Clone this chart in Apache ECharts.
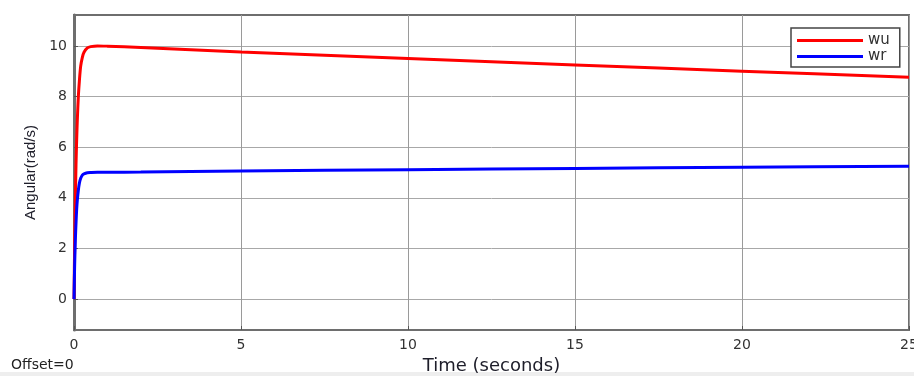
<!DOCTYPE html>
<html>
<head>
<meta charset="utf-8">
<script src="https://cdn.jsdelivr.net/npm/echarts@6/dist/echarts.min.js"></script>
<style>html,body{margin:0;padding:0;background:#fff;}#c{width:914px;height:376px;}</style>
</head>
<body>
<div id="c"></div>
<script>
const timeSec = [0, 0.02, 0.04, 0.06, 0.08, 0.1, 0.13, 0.16, 0.2, 0.25, 0.3, 0.4, 0.5, 0.7, 1, 2, 5, 10, 15, 20, 25];
const wuValues = [0, 2.2, 3.9, 5.3, 6.3, 7.1, 8.0, 8.6, 9.2, 9.55, 9.75, 9.92, 9.97, 10.0, 9.99, 9.94, 9.76, 9.5, 9.25, 9.0, 8.76];
const wrValues = [0, 1.37, 2.32, 3.0, 3.55, 3.92, 4.3, 4.57, 4.77, 4.9, 4.95, 4.99, 5.0, 5.01, 5.01, 5.02, 5.06, 5.11, 5.16, 5.21, 5.25];
const yTicks = [0, 2, 4, 6, 8, 10];
const seriesNames = ['wu', 'wr'];

const pair = (xs, ys) => xs.map((x, i) => [x, ys[i]]);
const chart = echarts.init(document.getElementById('c'));
const font = 'Liberation Sans, Arial, sans-serif';
const wide = 'DejaVu Sans, sans-serif';
chart.setOption({
  animation: false,
  backgroundColor: '#fff',
  grid: { left: 74, right: 5, top: 15, bottom: 46, outerBoundsMode: 'none', containLabel: false, show: true, borderColor: '#6e6e6e', borderWidth: 2, backgroundColor: '#fff' },
  legend: {
    data: seriesNames, orient: 'vertical', left: 791, top: 28,
    icon: 'rect', itemWidth: 66, itemHeight: 3, itemGap: 1,
    padding: [5, 10, 3, 6],
    borderColor: '#444', borderWidth: 1.5, backgroundColor: '#fff',
    textStyle: { fontFamily: wide, fontSize: 15, lineHeight: 14, color: '#333' }
  },
  xAxis: {
    type: 'value', min: 0, max: 25, interval: 5,
    name: 'Time (seconds)', nameLocation: 'middle', nameGap: 21,
    nameTextStyle: { fontFamily: wide, fontSize: 18, color: '#1e1e2a' },
    axisLine: { show: true, onZero: false, lineStyle: { color: '#6e6e6e', width: 2 } },
    axisTick: { show: true, inside: true, length: 4, lineStyle: { color: '#555' } },
    axisLabel: { fontFamily: wide, fontSize: 14, color: '#333', margin: 8 },
    splitLine: { show: true, lineStyle: { color: '#9a9a9a', width: 1 } }
  },
  yAxis: {
    type: 'value', min: -1.22, max: 11.22,
    name: 'Angular(rad/s)', nameLocation: 'middle', nameGap: 32,
    nameTextStyle: { fontFamily: font, fontSize: 15, color: '#1e1e2a' },
    axisLine: { show: true, onZero: false, lineStyle: { color: '#6e6e6e', width: 3 } },
    axisTick: { show: true, inside: true, length: 4, customValues: yTicks, lineStyle: { color: '#555' } },
    axisLabel: { fontFamily: wide, fontSize: 14, color: '#333', margin: 7, customValues: yTicks },
    splitLine: { show: true, lineStyle: { color: '#a8a8a8', width: 1 } }
  },
  series: [
    { name: 'wu', type: 'line', data: pair(timeSec, wuValues), showSymbol: false, smooth: 0.3, lineStyle: { color: '#ff0000', width: 3 }, itemStyle: { color: '#ff0000' }, z: 2 },
    { name: 'wr', type: 'line', data: pair(timeSec, wrValues), showSymbol: false, smooth: 0.3, lineStyle: { color: '#0000ff', width: 3 }, itemStyle: { color: '#0000ff' }, z: 3 }
  ],
  graphic: [
    { type: 'rect', left: 0, top: 372, shape: { width: 914, height: 4 }, style: { fill: '#eeeeee' }, silent: true },
    { type: 'text', left: 11, top: 358, style: { text: 'Offset=0', font: '14px DejaVu Sans, sans-serif', fill: '#222' } }
  ]
});
</script>
</body>
</html>
